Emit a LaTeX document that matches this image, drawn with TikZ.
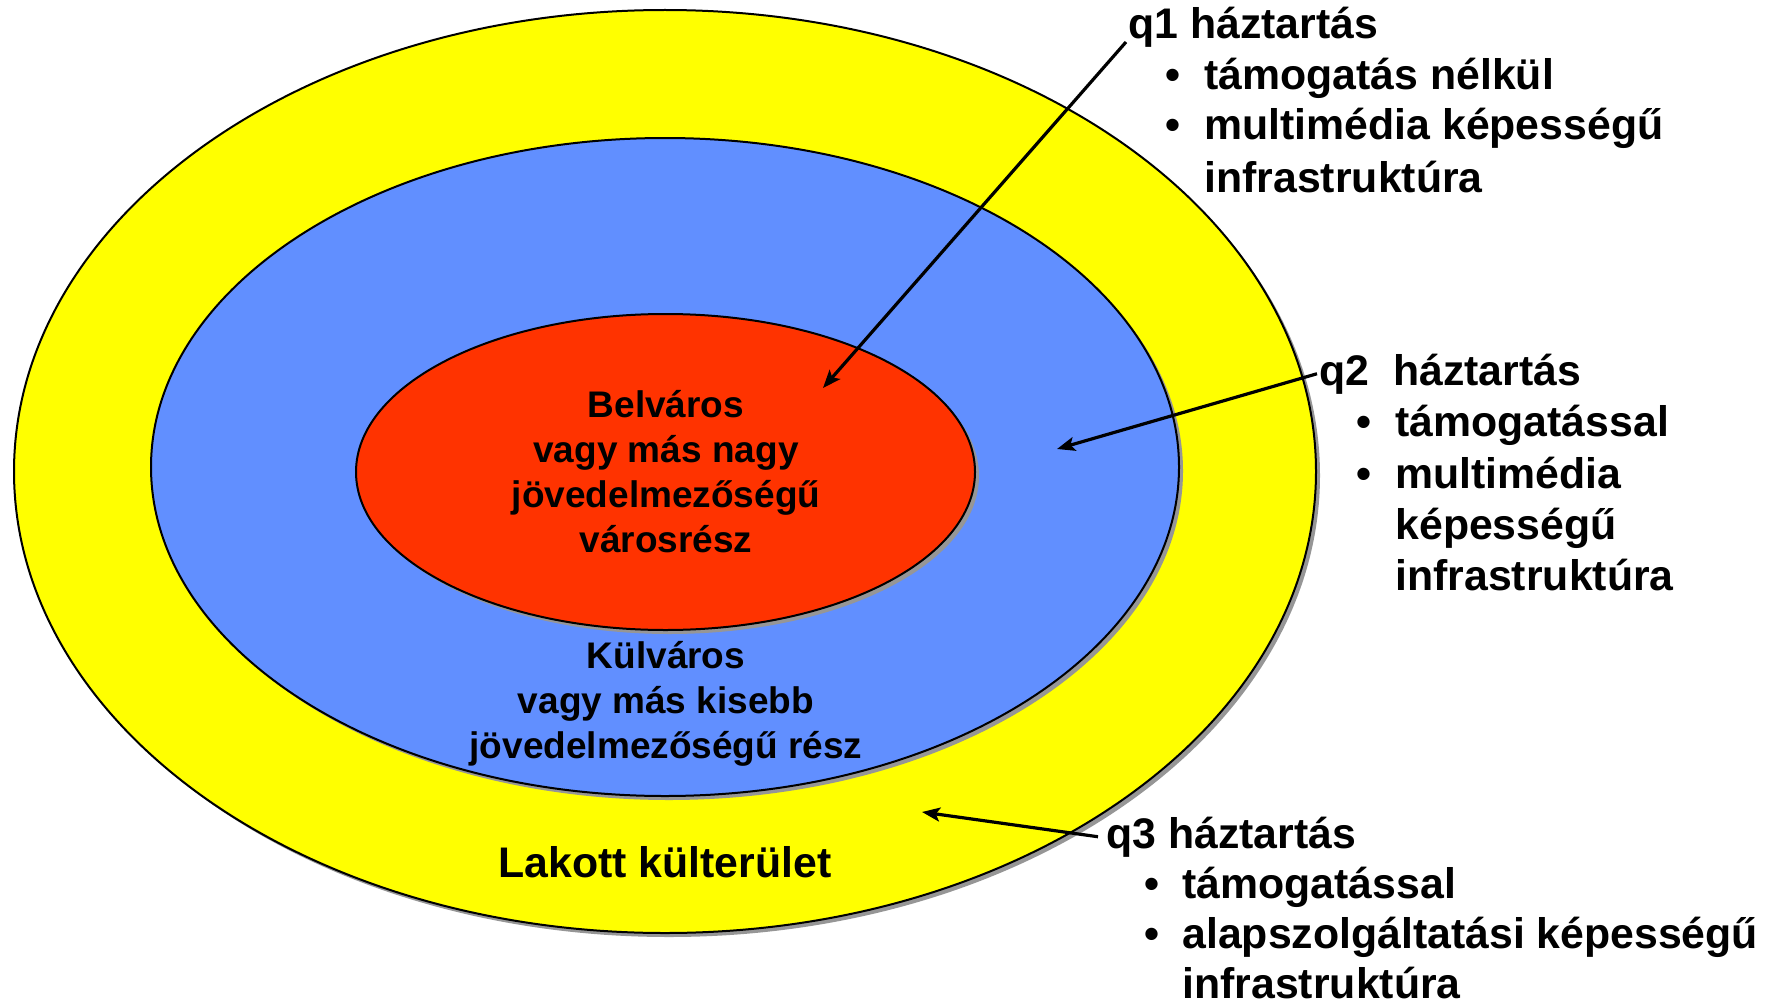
\documentclass[tikz,border=0pt]{standalone}
\usepackage{fontspec}
\setmainfont{Liberation Sans}
\usetikzlibrary{arrows.meta,calc}
\definecolor{yel}{RGB}{255,255,0}
\definecolor{blu}{RGB}{97,143,255}
\definecolor{rd}{RGB}{255,51,0}
\definecolor{shd}{RGB}{150,150,150}
\begin{document}
\begin{tikzpicture}[x=0.5pt,y=-0.5pt,
  ring/.style={draw=black,line width=1pt},
  shadowring/.style={fill=shd},
  ctext/.style={font=\fontsize{18.5}{22}\selectfont\bfseries,anchor=base,inner sep=0pt},
  rtext/.style={font=\fontsize{21.4}{26}\selectfont\bfseries,anchor=base west,inner sep=0pt},
  bul/.style={font=\fontsize{21.4}{26}\selectfont\bfseries,anchor=base,inner sep=0pt},
  pointer/.style={line width=1.6pt,-{Stealth[length=9pt,width=7pt,inset=2pt]}}]
\useasboundingbox (0,0) rectangle (1771,1006);
% rings
\fill[shadowring] (669,475.5) ellipse [x radius=651,y radius=461.5];
\draw[ring,fill=yel] (665,471.5) ellipse [x radius=651,y radius=461.5];
\fill[shadowring] (669,471) ellipse [x radius=514,y radius=329];
\draw[ring,fill=blu] (665,467) ellipse [x radius=514,y radius=329];
\fill[shadowring] (669.5,476) ellipse [x radius=309.5,y radius=158];
\draw[ring,fill=rd] (665.5,472) ellipse [x radius=309.5,y radius=158];
% centre texts
\node[ctext] (b1) at (666,417) {Belváros};
\node[ctext] (b2) at (666,462) {vagy más nagy};
\node[ctext] (b3) at (666,507) {jövedelmezőségű};
\node[ctext] (b4) at (666,552) {városrész};
\node[ctext] (k1) at (666,668) {Külváros};
\node[ctext] (k2) at (666,713) {vagy más kisebb};
\node[ctext] (k3) at (666,758) {jövedelmezőségű rész};
\node[rtext,anchor=base] (lk) at (665,877) {Lakott külterület};
% q1 block
\node[rtext] (q1) at (1128,39) {q1 háztartás};
\node[bul] (q1b1) at (1173,90) {•};
\node[rtext] (q1l1) at (1204,90) {támogatás nélkül};
\node[bul] (q1b2) at (1173,140) {•};
\node[rtext] (q1l2) at (1204,140) {multimédia képességű};
\node[rtext] (q1l3) at (1204,192) {infrastruktúra};
% q2 block
\node[rtext] (q2) at (1319,385) {q2\ \ háztartás};
\node[bul] (q2b1) at (1364,436) {•};
\node[rtext] (q2l1) at (1395,436) {támogatással};
\node[bul] (q2b2) at (1364,488) {•};
\node[rtext] (q2l2) at (1395,488) {multimédia};
\node[rtext] (q2l3) at (1395,539) {képességű};
\node[rtext] (q2l4) at (1395,590) {infrastruktúra};
% q3 block
\node[rtext] (q3) at (1106,848) {q3 háztartás};
\node[bul] (q3b1) at (1152,898) {•};
\node[rtext] (q3l1) at (1182,898) {támogatással};
\node[bul] (q3b2) at (1152,948) {•};
\node[rtext] (q3l2) at (1182,948) {alapszolgáltatási képességű};
\node[rtext] (q3l3) at (1182,998) {infrastruktúra};
% arrow targets
\coordinate (t1) at (823,388);
\coordinate (t2) at (1057,449);
\coordinate (t3) at (922,812);
\draw[pointer] ([xshift=-1pt,yshift=-1.5pt]q1.base west) -- (t1);
\draw[pointer] ([xshift=-1pt]q2.west) -- (t2);
\draw[pointer] ([xshift=-4pt]q3.west) -- (t3);
\end{tikzpicture}
\end{document}
